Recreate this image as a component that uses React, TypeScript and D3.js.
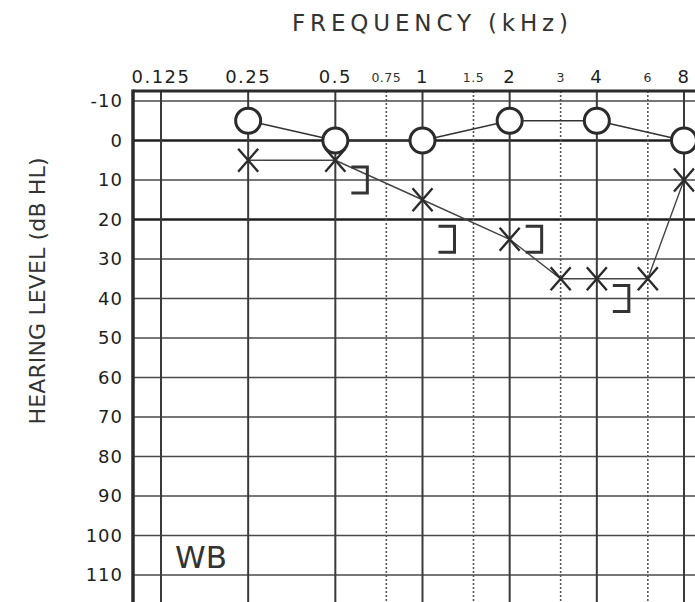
import { useEffect, useRef } from 'react';
import * as d3 from 'd3';

// audiogram values
const mainFreqs = [0.125, 0.25, 0.5, 1, 2, 4, 8];
const mainFreqLabels = ['0.125', '0.25', '0.5', '1', '2', '4', '8'];
const midFreqs = [0.75, 1.5, 3, 6];
const midFreqLabels = ['0.75', '1.5', '3', '6'];
const dbTicks = [-10, 0, 10, 20, 30, 40, 50, 60, 70, 80, 90, 100, 110];

const rightAcFreqs = [0.25, 0.5, 1, 2, 4, 8];
const rightAcDb = [-5, 0, 0, -5, -5, 0];

const leftAcFreqs = [0.25, 0.5, 1, 2, 3, 4, 6, 8];
const leftAcDb = [5, 5, 15, 25, 35, 35, 35, 10];

const leftBcFreqs = [0.5, 1, 2, 4];
const leftBcDb = [10, 25, 25, 40];

const W = 695;
const H = 602;

export default function App() {
  const ref = useRef<SVGSVGElement>(null);

  useEffect(() => {
    if (!ref.current) return;
    const svg = d3.select(ref.current);
    svg.selectAll('*').remove();

    const x = d3.scaleLog().base(2).domain([0.125, 8]).range([161, 684]);
    const y = d3.scaleLinear().domain([-10, 110]).range([101, 575]);
    const left = 133;
    const top = 91;
    const font = '"DejaVu Sans", sans-serif';
    const ink = '#2b2b2b';

    const grid = svg.append('g');

    // horizontal grid
    grid.selectAll('.hline').data(dbTicks).enter().append('line')
      .attr('x1', left).attr('x2', W + 5)
      .attr('y1', d => y(d)).attr('y2', d => y(d))
      .attr('stroke', d => (d === 0 || d === 20) ? '#1e1e1e' : '#4a4a4a')
      .attr('stroke-width', d => (d === 0 || d === 20) ? 2.6 : 1.6);

    // vertical solid lines
    grid.selectAll('.vline').data(mainFreqs).enter().append('line')
      .attr('x1', d => x(d)).attr('x2', d => x(d))
      .attr('y1', top).attr('y2', H + 5)
      .attr('stroke', '#3a3a3a').attr('stroke-width', 2);

    // vertical dotted lines
    grid.selectAll('.vdot').data(midFreqs).enter().append('line')
      .attr('x1', d => x(d)).attr('x2', d => x(d))
      .attr('y1', top).attr('y2', H + 5)
      .attr('stroke', '#555').attr('stroke-width', 1.6).attr('stroke-dasharray', '2,2');

    // frame
    grid.append('line').attr('x1', left).attr('x2', W + 5).attr('y1', top).attr('y2', top)
      .attr('stroke', ink).attr('stroke-width', 3);
    grid.append('line').attr('x1', left).attr('x2', left).attr('y1', top - 1.5).attr('y2', H + 5)
      .attr('stroke', ink).attr('stroke-width', 3.5);

    // tick labels
    svg.selectAll('.flab').data(mainFreqs).enter().append('text')
      .attr('x', d => x(d)).attr('y', 83).attr('text-anchor', 'middle')
      .attr('font-family', font).attr('font-size', 18).attr('letter-spacing', 1.5)
      .attr('fill', '#1e1e1e').text((_, i) => mainFreqLabels[i]);
    svg.selectAll('.mlab').data(midFreqs).enter().append('text')
      .attr('x', d => x(d)).attr('y', 82).attr('text-anchor', 'middle')
      .attr('font-family', font).attr('font-size', 12.5).attr('letter-spacing', 0.5)
      .attr('fill', '#333').text((_, i) => midFreqLabels[i]);
    svg.selectAll('.ylab').data(dbTicks).enter().append('text')
      .attr('x', 123).attr('y', d => y(d)).attr('dy', '0.36em').attr('text-anchor', 'end')
      .attr('font-family', font).attr('font-size', 18).attr('letter-spacing', 1)
      .attr('fill', '#1e1e1e').text(d => String(d));

    // axis titles
    svg.append('text').attr('x', 430).attr('y', 31).attr('text-anchor', 'middle')
      .attr('font-family', font).attr('font-size', 23)
      .attr('textLength', 276).attr('lengthAdjust', 'spacing')
      .attr('fill', '#333').text('FREQUENCY (kHz)');
    svg.append('text').attr('transform', 'translate(45,291) rotate(-90)').attr('text-anchor', 'middle')
      .attr('font-family', font).attr('font-size', 22)
      .attr('textLength', 267).attr('lengthAdjust', 'spacing')
      .attr('fill', '#333').text('HEARING LEVEL (dB HL)');

    svg.append('text').attr('x', 175).attr('y', 568)
      .attr('font-family', font).attr('font-size', 31)
      .attr('fill', '#333').text('WB');

    // left air conduction (X) connectors
    const lp = leftAcFreqs.map((f, i) => [x(f), y(leftAcDb[i])] as [number, number]);
    svg.append('path').attr('d', d3.line()(lp) ?? '')
      .attr('fill', 'none').attr('stroke', '#444').attr('stroke-width', 1.4);

    const xs = 10;
    const xh = 11.5;
    const xg = svg.selectAll('.xm').data(lp).enter().append('g')
      .attr('transform', d => `translate(${d[0]},${d[1]})`);
    xg.append('path').attr('d', `M${-xs},${-xh}L${xs},${xh}M${xs},${-xh}L${-xs},${xh}`)
      .attr('stroke', ink).attr('stroke-width', 2.4).attr('fill', 'none');

    // right air conduction (O) connectors, edge to edge
    const r = 12.5;
    const rp = rightAcFreqs.map((f, i) => [x(f), y(rightAcDb[i])] as [number, number]);
    const segs = d3.pairs(rp);
    svg.selectAll('.oseg').data(segs).enter().append('line')
      .attr('x1', ([a, b]) => a[0] + r * (b[0] - a[0]) / Math.hypot(b[0] - a[0], b[1] - a[1]))
      .attr('y1', ([a, b]) => a[1] + r * (b[1] - a[1]) / Math.hypot(b[0] - a[0], b[1] - a[1]))
      .attr('x2', ([a, b]) => b[0] - r * (b[0] - a[0]) / Math.hypot(b[0] - a[0], b[1] - a[1]))
      .attr('y2', ([a, b]) => b[1] - r * (b[1] - a[1]) / Math.hypot(b[0] - a[0], b[1] - a[1]))
      .attr('stroke', '#333').attr('stroke-width', 1.5);
    svg.selectAll('.om').data(rp).enter().append('circle')
      .attr('cx', d => d[0]).attr('cy', d => d[1]).attr('r', r)
      .attr('fill', 'white').attr('stroke', ink).attr('stroke-width', 3);

    // left masked bone conduction (])
    const bOff = 32;
    const bw = 16;
    const bh = 13;
    svg.selectAll('.bm').data(leftBcFreqs).enter().append('path')
      .attr('d', (f, i) => {
        const cx = x(f) + bOff;
        const cy = y(leftBcDb[i]);
        return `M${cx - bw},${cy - bh}H${cx}V${cy + bh}H${cx - bw}`;
      })
      .attr('fill', 'none').attr('stroke', '#333').attr('stroke-width', 3);
  }, []);

  return (
    <svg ref={ref} width={W} height={H}
      style={{ position: 'absolute', left: 0, top: 0, background: 'white' }} />
  );
}
